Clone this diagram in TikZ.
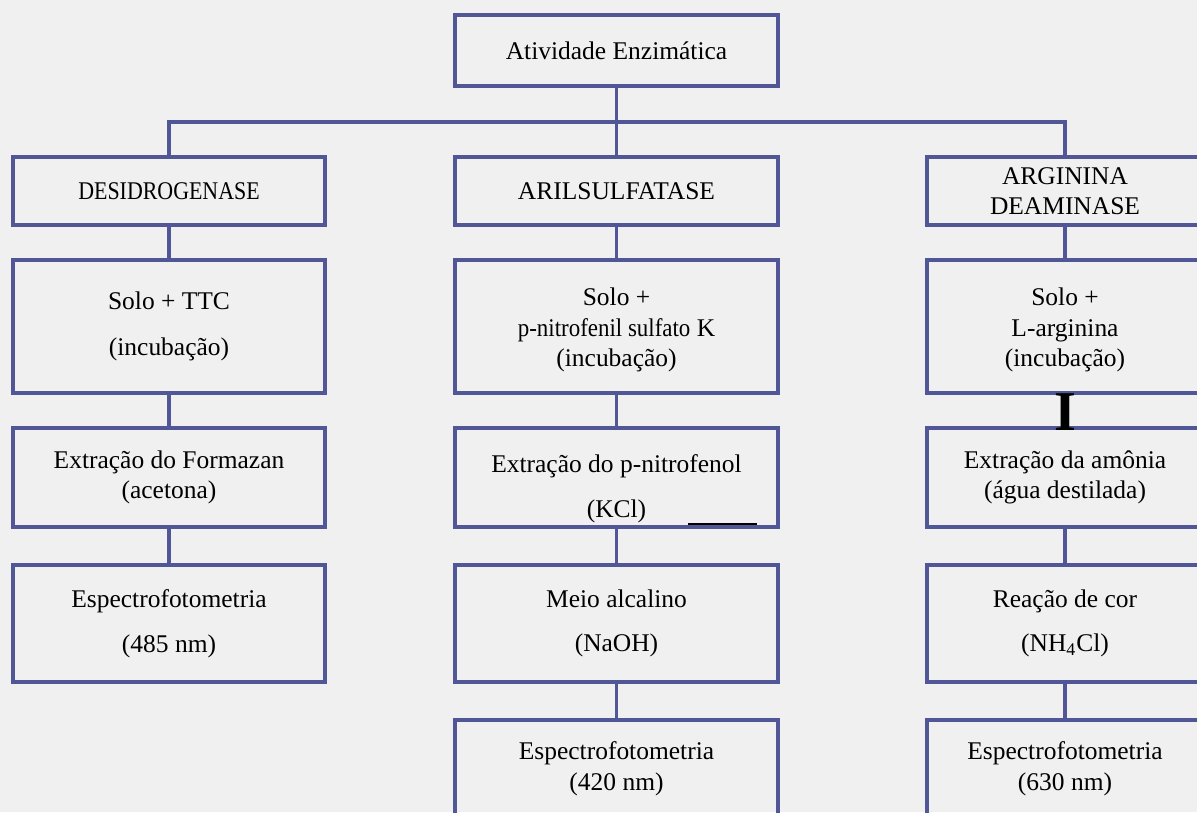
\documentclass[tikz,border=0pt]{standalone}
\usepackage{fontspec}
\setmainfont{Liberation Serif}
\usepackage{graphicx}
\definecolor{borda}{RGB}{80,86,150}
\definecolor{fundo}{RGB}{240,240,240}
\tikzset{
	caixa/.style={draw=borda, line width=1.8pt, align=center, inner sep=0pt,
		font=\fontsize{14.5}{17.4}\selectfont},
	liga/.style={draw=borda, line width=1.8pt},
	col1/.style={minimum width=6.24cm},
	col2/.style={minimum width=6.46cm},
	col3/.style={minimum width=5.52cm},
	lin1/.style={minimum height=1.36cm},
	lin2/.style={minimum height=2.66cm},
	lin3/.style={minimum height=1.98cm},
	lin4/.style={minimum height=2.34cm},
	lin5/.style={minimum height=1.96cm},
}
\begin{document}
\begin{tikzpicture}[x=0.02cm, y=-0.02cm]
	
	\fill[fundo] (0,0) rectangle (1197,812);
	\useasboundingbox (0,0) rectangle (1197,812);
	
	\node[caixa, col2, minimum height=1.42cm] (ativ) at (616.5,50.5) {Atividade Enzimática};
	\coordinate (barra) at (0,122);
	
	\node[caixa, col1, lin1] (desid) at (169,191) {\scalebox{0.86}[1]{DESIDROGENASE}};
	\node[caixa, col2, lin1] (arils) at (616.5,191) {ARILSULFATASE};
	\node[caixa, col3, lin1] (argin) at (1065,191) {ARGININA\\DEAMINASE};
	
	\node[caixa, col1, lin2] (solo1) at (169,326.5) {Solo + TTC\\[9pt](incubação)};
	\node[caixa, col2, lin2] (solo2) at (616.5,326.5) {\rule{0pt}{14pt}Solo +\\\scalebox{0.9}[1]{p-nitrofenil sulfato} K\\(incubação)};
	\node[caixa, col3, lin2] (solo3) at (1065,326.5) {\rule{0pt}{14pt}Solo +\\L-arginina\\(incubação)};
	
	\node[caixa, col1, lin3] (extr1) at (169,477.5) {Extração do Formazan\\(acetona)};
	\node[caixa, col2, lin3] (extr2) at (616.5,477.5) {\rule{0pt}{23pt}Extração do p-nitrofenol\\[8pt](KCl)};
	\node[caixa, col3, lin3] (extr3) at (1065,477.5) {Extração da amônia\\(água destilada)};
	
	\node[caixa, col1, lin4] (espec1) at (169,623.5) {Espectrofotometria\\[8pt](485 nm)};
	\node[caixa, col2, lin4] (meio2) at (616.5,623.5) {Meio alcalino\\[8pt](NaOH)};
	\node[caixa, col3, lin4] (reac3) at (1065,623.5) {Reação de cor\\[8pt](NH\textsubscript{4}Cl)};
	
	\node[caixa, col2, lin5] (espec2) at (616.5,769) {Espectrofotometria\\(420 nm)};
	\node[caixa, col3, lin5] (espec3) at (1065,769) {Espectrofotometria\\(630 nm)};
	
	\draw[liga] (ativ.south) -- (ativ.south |- barra);
	\draw[liga] (desid.north) -- (desid.north |- barra) -- (argin.north |- barra) -- (argin.north);
	\draw[liga] (arils.north) -- (arils.north |- barra);
	
	\draw[liga] (desid) -- (solo1);
	\draw[liga] (solo1) -- (extr1);
	\draw[liga] (extr1) -- (espec1);
	\draw[liga] (arils) -- (solo2);
	\draw[liga] (solo2) -- (extr2);
	\draw[liga] (extr2) -- (meio2);
	\draw[liga] (meio2) -- (espec2);
	\draw[liga] (argin) -- (solo3);
	\draw[liga] (extr3) -- (reac3);
	\draw[liga] (reac3) -- (espec3);
	
	\node[anchor=base, inner sep=0pt, font=\fontsize{32}{32}\selectfont\bfseries] (haste) at (1065,430) {I};
	\draw[black, line width=0.8pt] (688,524) -- (757,524);
	
\end{tikzpicture}
\end{document}
